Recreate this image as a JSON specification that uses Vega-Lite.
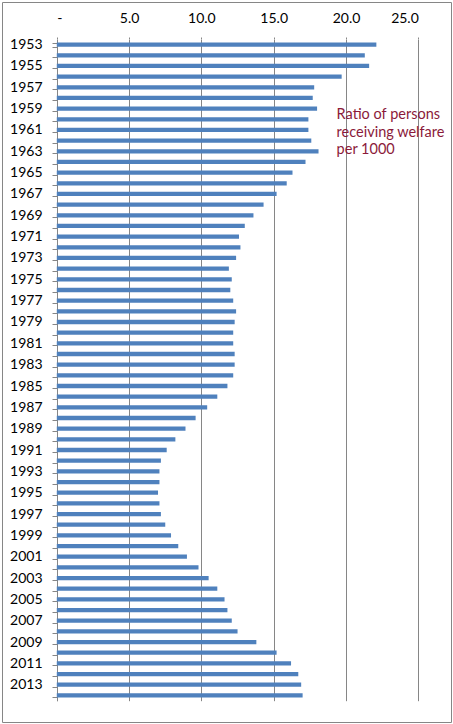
{
  "$schema": "https://vega.github.io/schema/vega-lite/v6.json",
  "description": "Ratio of persons receiving welfare per 1000, 1953-2014",
  "width": 449,
  "height": 720,
  "autosize": {"type": "none"},
  "padding": {"left": 2, "top": 2, "right": 2, "bottom": 2},
  "background": "white",
  "config": {
    "font": "Lato",
    "view": {"stroke": "#868686", "strokeWidth": 1}
  },
  "data": {
    "values": [
      {"year": 1953, "ratio": 22.1}, {"year": 1954, "ratio": 21.3}, {"year": 1955, "ratio": 21.6},
      {"year": 1956, "ratio": 19.7}, {"year": 1957, "ratio": 17.8}, {"year": 1958, "ratio": 17.7},
      {"year": 1959, "ratio": 18.0}, {"year": 1960, "ratio": 17.4}, {"year": 1961, "ratio": 17.4},
      {"year": 1962, "ratio": 17.6}, {"year": 1963, "ratio": 18.1}, {"year": 1964, "ratio": 17.2},
      {"year": 1965, "ratio": 16.3}, {"year": 1966, "ratio": 15.9}, {"year": 1967, "ratio": 15.2},
      {"year": 1968, "ratio": 14.3}, {"year": 1969, "ratio": 13.6}, {"year": 1970, "ratio": 13.0},
      {"year": 1971, "ratio": 12.6}, {"year": 1972, "ratio": 12.7}, {"year": 1973, "ratio": 12.4},
      {"year": 1974, "ratio": 11.9}, {"year": 1975, "ratio": 12.1}, {"year": 1976, "ratio": 12.0},
      {"year": 1977, "ratio": 12.2}, {"year": 1978, "ratio": 12.4}, {"year": 1979, "ratio": 12.3},
      {"year": 1980, "ratio": 12.2}, {"year": 1981, "ratio": 12.2}, {"year": 1982, "ratio": 12.3},
      {"year": 1983, "ratio": 12.3}, {"year": 1984, "ratio": 12.2}, {"year": 1985, "ratio": 11.8},
      {"year": 1986, "ratio": 11.1}, {"year": 1987, "ratio": 10.4}, {"year": 1988, "ratio": 9.6},
      {"year": 1989, "ratio": 8.9}, {"year": 1990, "ratio": 8.2}, {"year": 1991, "ratio": 7.6},
      {"year": 1992, "ratio": 7.2}, {"year": 1993, "ratio": 7.1}, {"year": 1994, "ratio": 7.1},
      {"year": 1995, "ratio": 7.0}, {"year": 1996, "ratio": 7.1}, {"year": 1997, "ratio": 7.2},
      {"year": 1998, "ratio": 7.5}, {"year": 1999, "ratio": 7.9}, {"year": 2000, "ratio": 8.4},
      {"year": 2001, "ratio": 9.0}, {"year": 2002, "ratio": 9.8}, {"year": 2003, "ratio": 10.5},
      {"year": 2004, "ratio": 11.1}, {"year": 2005, "ratio": 11.6}, {"year": 2006, "ratio": 11.8},
      {"year": 2007, "ratio": 12.1}, {"year": 2008, "ratio": 12.5}, {"year": 2009, "ratio": 13.8},
      {"year": 2010, "ratio": 15.2}, {"year": 2011, "ratio": 16.2}, {"year": 2012, "ratio": 16.7},
      {"year": 2013, "ratio": 16.9}, {"year": 2014, "ratio": 17.0}
    ]
  },
  "layer": [
    {
      "mark": {"type": "bar", "color": "#4F81BD"},
      "encoding": {
        "y": {
          "field": "year",
          "type": "ordinal",
          "scale": {"range": [37.3, 698.7], "paddingInner": 0.6, "paddingOuter": 0.3},
          "axis": {
            "title": null,
            "orient": "left",
            "offset": -55,
            "domainColor": "#868686",
            "tickColor": "#868686",
            "tickSize": 5,
            "tickBand": "extent",
            "labelExpr": "datum.value % 2 == 1 ? datum.label : ''",
            "labelFontSize": 14,
            "labelColor": "black",
            "labelPadding": 10
          }
        },
        "x": {
          "field": "ratio",
          "type": "quantitative",
          "scale": {"domain": [0, 25], "range": [54.8, 416.3], "nice": false},
          "axis": {
            "title": null,
            "orient": "top",
            "offset": -37,
            "values": [0, 5, 10, 15, 20, 25],
            "domain": false,
            "ticks": true,
            "tickSize": 2,
            "tickColor": "#868686",
            "grid": true,
            "gridColor": "#868686",
            "gridOpacity": 1,
            "labelExpr": "datum.value == 0 ? '-' : format(datum.value, '.1f')",
            "labelFontSize": 14,
            "labelColor": "black",
            "labelPadding": 12
          }
        }
      }
    },
    {
      "data": {"values": [{"year": 1960, "ratio": 19.35, "note": "Ratio of persons\nreceiving welfare\nper 1000"}]},
      "mark": {
        "type": "text",
        "align": "left",
        "baseline": "alphabetic",
        "lineBreak": "\n",
        "lineHeight": 17.5,
        "fontSize": 14.5,
        "color": "#8B1A3A"
      },
      "encoding": {
        "y": {"field": "year", "type": "ordinal"},
        "x": {"field": "ratio", "type": "quantitative"},
        "text": {"field": "note"}
      }
    }
  ]
}
